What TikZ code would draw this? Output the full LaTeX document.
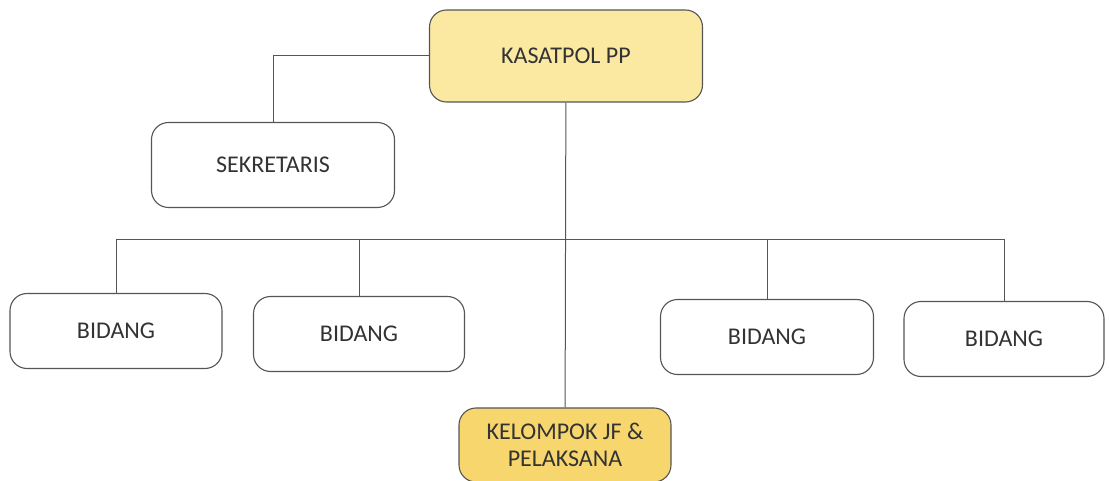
\documentclass[tikz,border=0pt]{standalone}
\usepackage{fontspec}
\setmainfont{Carlito}
\usepackage{xcolor}
\usepackage{tikz}
\usetikzlibrary{positioning}
\definecolor{headyellow}{HTML}{FBE9A2}
\definecolor{jfyellow}{HTML}{F7D66E}
\definecolor{boxline}{HTML}{555555}
\definecolor{boxtext}{HTML}{333333}
\tikzset{unit/.style={draw=boxline,line width=1.1pt,rounded corners=17pt,fill=white,
  text=boxtext,font=\fontsize{24}{27}\selectfont,align=center,inner sep=2pt}}
\tikzset{link/.style={draw=boxline,line width=1pt}}

\begin{document}
\begin{tikzpicture}[x=1pt,y=-1pt]
  \useasboundingbox (0,0) rectangle (1109,481);
  \node[unit,fill=headyellow,minimum width=273pt,minimum height=92pt] (kasat) at (566,56) {KASATPOL PP};
  \node[unit,minimum width=243pt,minimum height=85pt] (sekr) at (273,165) {SEKRETARIS};
  \node[unit,minimum width=212pt,minimum height=75pt] (bid1) at (116,331) {BIDANG};
  \node[unit,minimum width=211pt,minimum height=75pt] (bid2) at (359,334) {BIDANG};
  \node[unit,minimum width=213pt,minimum height=75pt] (bid3) at (767,337) {BIDANG};
  \node[unit,minimum width=200pt,minimum height=75pt] (bid4) at (1004,339) {BIDANG};
  \node[unit,fill=jfyellow,minimum width=212pt,minimum height=74pt] (jf) at (565,445) {KELOMPOK JF \&\\PELAKSANA};
  \coordinate (bus) at (565,240);
  % connectors
  \draw[link] (kasat.west) -| (sekr.north);
  \draw[link] (kasat) -- (jf);
  \draw[link] (bid1.north) |- (bid4.north |- bus) -- (bid4.north);
  \draw[link] (bid2.north) -- (bid2.north |- bus);
  \draw[link] (bid3.north) -- (bid3.north |- bus);
\end{tikzpicture}
\end{document}
